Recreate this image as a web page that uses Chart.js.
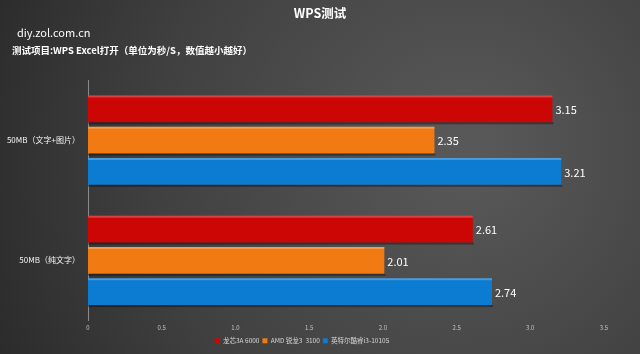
<!DOCTYPE html>
<html>
<head>
    <title>WPS测试</title>
    <meta charset="utf-8">
    <style>
        html, body { margin: 0; padding: 0; background: #333; }
        #wrap { width: 640px; height: 354px; position: relative; }
    </style>
</head>
<body>
    <div id="wrap"><canvas id="barChart"></canvas></div>

    <script src="https://cdn.jsdelivr.net/npm/chart.js"></script>
    <script>
        // chart data
        var categories = ['50MB（文字+图片）', '50MB（纯文字）'];
        var seriesNames = ['龙芯3A 6000', 'AMD 锐龙3  3100', '英特尔酷睿i3-10105'];
        var loongson = [3.15, 2.61];
        var amd = [2.35, 2.01];
        var intel = [3.21, 2.74];
        var xTicks = [0, 0.5, 1, 1.5, 2, 2.5, 3, 3.5];

        var colors = ['#cc0505', '#f27a12', '#0c7bd2'];
        var cjk = '"Noto Sans CJK SC", "Noto Sans", sans-serif';

        // background + header text
        var backdrop = {
            id: 'backdrop',
            beforeDraw: function(chart) {
                var c = chart.ctx;
                var w = chart.width, h = chart.height;
                c.save();
                var g = c.createRadialGradient(470, 150, 20, 430, 170, 520);
                g.addColorStop(0, '#585858');
                g.addColorStop(0.55, '#404040');
                g.addColorStop(1, '#262626');
                c.fillStyle = g;
                c.fillRect(0, 0, w, h);
                c.restore();
            },
            afterDraw: function(chart) {
                var c = chart.ctx;
                c.save();
                c.fillStyle = '#ffffff';
                c.textBaseline = 'middle';
                c.textAlign = 'center';
                c.font = 'bold 12.5px ' + cjk;
                c.fillText('WPS测试', 320, 13);
                c.textAlign = 'left';
                c.font = '11px ' + cjk;
                c.fillText('diy.zol.com.cn', 17, 33);
                c.font = 'bold 9.5px ' + cjk;
                c.fillText('测试项目:WPS Excel打开（单位为秒/S，数值越小越好）', 12, 50);
                c.restore();
            }
        };

        // value labels + light top edge on bars
        var barLabels = {
            id: 'barLabels',
            afterDatasetsDraw: function(chart) {
                var c = chart.ctx;
                c.save();
                chart.data.datasets.forEach(function(ds, i) {
                    var meta = chart.getDatasetMeta(i);
                    meta.data.forEach(function(bar, j) {
                        var top = bar.y - bar.height / 2;
                        var bot = bar.y + bar.height / 2;
                        c.fillStyle = 'rgba(255,255,255,0.25)';
                        c.fillRect(bar.base, top, bar.x - bar.base, 2);
                        c.fillStyle = 'rgba(0,0,0,0.35)';
                        c.fillRect(bar.base, bot, bar.x - bar.base + 1, 2);
                        c.fillStyle = '#ffffff';
                        c.font = '11px ' + cjk;
                        c.textAlign = 'left';
                        c.textBaseline = 'middle';
                        c.fillText(ds.data[j].toFixed(2), bar.x + 3, bar.y + 1);
                    });
                });
                c.restore();
            }
        };

        var ctx = document.getElementById('barChart').getContext('2d');
        new Chart(ctx, {
            type: 'bar',
            data: {
                labels: categories,
                datasets: [
                    { label: seriesNames[0], data: loongson, backgroundColor: colors[0] },
                    { label: seriesNames[1], data: amd, backgroundColor: colors[1] },
                    { label: seriesNames[2], data: intel, backgroundColor: colors[2] }
                ]
            },
            options: {
                indexAxis: 'y',
                responsive: true,
                maintainAspectRatio: false,
                animation: false,
                categoryPercentage: 0.78,
                barPercentage: 0.86,
                layout: { padding: { top: 80, right: 36, left: 0, bottom: 0 } },
                scales: {
                    x: {
                        min: 0,
                        max: 3.5,
                        afterBuildTicks: function(scale) {
                            scale.ticks = xTicks.map(function(v) { return { value: v }; });
                        },
                        grid: { display: false, drawTicks: false },
                        border: { display: false },
                        ticks: { color: '#c4c4c4', font: { size: 6, family: cjk }, padding: 4 },
                        afterFit: function(scale) { scale.height = 14; }
                    },
                    y: {
                        grid: { display: false },
                        border: { display: true, color: '#8a8a8a', width: 1 },
                        ticks: { color: '#f4f4f4', font: { size: 8, family: cjk }, padding: 0 },
                        afterFit: function(scale) { scale.width = 88; }
                    }
                },
                plugins: {
                    legend: {
                        position: 'bottom',
                        labels: {
                            color: '#d8d8d8',
                            font: { size: 6.5, family: cjk },
                            boxWidth: 5,
                            boxHeight: 5,
                            padding: 3
                        }
                    },
                    tooltip: { enabled: false }
                }
            },
            plugins: [backdrop, barLabels]
        });
    </script>
</body>
</html>
